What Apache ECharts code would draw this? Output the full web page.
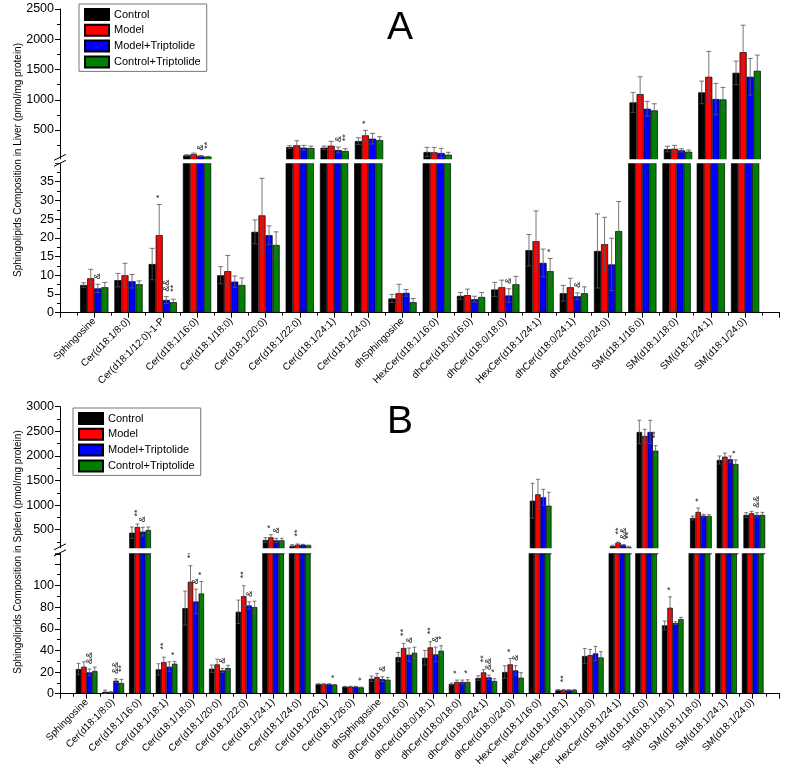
<!DOCTYPE html>
<html><head><meta charset="utf-8">
<script src="https://cdn.jsdelivr.net/npm/echarts@6/dist/echarts.min.js"></script>
<style>html,body{margin:0;padding:0;background:#fff}#c{width:785px;height:775px}</style>
</head><body><div id="c"></div>
<script>
const seriesNames = ['Control', 'Model', 'Model+Triptolide', 'Control+Triptolide'];
const colors = ['#000000', '#ff0000', '#0000ff', '#008000'];

// ---------- Panel A : Liver ----------
const catsA = ['Sphingosine','Cer(d18:1/8:0)','Cer(d18:1/12:0)-1-P','Cer(d18:1/16:0)','Cer(d18:1/18:0)','Cer(d18:1/20:0)','Cer(d18:1/22:0)','Cer(d18:1/24:1)','Cer(d18:1/24:0)','dhSphingosine','HexCer(d18:1/16:0)','dhCer(d18:0/16:0)','dhCer(d18:0/18:0)','HexCer(d18:1/24:1)','dhCer(d18:0/24:1)','dhCer(d18:0/24:0)','SM(d18:1/16:0)','SM(d18:1/18:0)','SM(d18:1/24:1)','SM(d18:1/24:0)'];
const controlA   = [7.4, 8.7, 13.0, 82, 10.0, 21.6, 219, 208, 318, 3.8, 137, 4.5, 6.2, 16.7, 5.2, 16.5, 957, 186, 1122, 1446];
const controlErrA= [0.6, 1.8, 4.2, 10, 2.3, 3.2, 22, 28, 55, 1.1, 77, 0.9, 1.9, 4.2, 2.1, 9.9, 165, 45, 187, 193];
const modelA     = [9.2, 10.0, 20.7, 99, 11.1, 26.0, 247, 241, 412, 5.2, 132, 4.7, 6.8, 19.1, 6.8, 18.3, 1094, 191, 1380, 1787];
const modelErrA  = [2.4, 3.2, 8.2, 20, 4.2, 9.9, 76, 72, 83, 2.4, 82, 1.6, 1.9, 8.1, 2.4, 7.2, 286, 56, 419, 446];
const modelTpA   = [6.5, 8.4, 3.4, 71, 8.3, 20.7, 208, 170, 357, 5.3, 120, 3.6, 4.6, 13.3, 4.4, 12.9, 852, 165, 1012, 1380];
const modelTpErrA= [1.1, 1.8, 0.9, 8, 1.5, 2.5, 39, 49, 88, 0.9, 78, 0.8, 1.8, 3.7, 0.9, 7.0, 122, 26, 259, 303];
const ctrlTpA    = [6.8, 7.6, 2.8, 60, 7.4, 18.1, 203, 153, 335, 2.8, 92, 4.2, 7.6, 11.1, 5.2, 21.8, 825, 142, 1006, 1479];
const ctrlTpErrA = [1.3, 0.9, 0.8, 5, 1.9, 3.5, 33, 39, 55, 1.0, 40, 1.2, 2.1, 3.4, 1.7, 7.9, 109, 28, 199, 259];
const breakA = 40;            // axis break value (lower segment max)
const upperMaxA = 2500;
const lowerTicksA = 5;
// significance marks: [category index, series index, text]
const marksA = [[0,2,'&'],[2,1,'*'],[2,2,'&&'],[2,3,'**'],[3,2,'&'],[3,3,'**'],[7,2,'&'],[7,3,'**'],[8,1,'*'],[12,2,'&'],[13,3,'*'],[14,2,'&']];

// ---------- Panel B : Spleen ----------
const catsB = ['Sphingosine','Cer(d18:1/8:0)','Cer(d18:1/16:0)','Cer(d18:1/18:1)','Cer(d18:1/18:0)','Cer(d18:1/20:0)','Cer(d18:1/22:0)','Cer(d18:1/24:1)','Cer(d18:1/24:0)','Cer(d18:1/26:1)','Cer(d18:1/26:0)','dhSphingosine','dhCer(d18:0/16:0)','dhCer(d18:0/18:1)','dhCer(d18:0/18:0)','dhCer(d18:0/24:1)','dhCer(d18:0/24:0)','HexCer(d18:1/16:0)','HexCer(d18:1/18:1)','HexCer(d18:1/18:0)','HexCer(d18:1/24:1)','SM(d18:1/16:0)','SM(d18:1/18:1)','SM(d18:1/18:0)','SM(d18:1/24:1)','SM(d18:1/24:0)'];
const controlB   = [22.8, 1.8, 439, 22.5, 79.1, 23.1, 75.7, 291, 175, 8.9, 6.5, 13.8, 33.8, 33.2, 8.9, 14.5, 20.0, 1089, 3.4, 34.8, 169, 2486, 63.1, 738, 1917, 799];
const controlErrB= [5.2, 1.6, 116, 5.2, 15.7, 3.4, 10.8, 47, 21, 0.3, 0.3, 2.5, 4.4, 6.8, 0.9, 2.1, 5.8, 354, 0.3, 7.0, 15, 238, 4.0, 40, 81, 47];
const modelB     = [24.9, 1.5, 555, 29.2, 103.4, 27.1, 90.2, 345, 196, 8.9, 6.5, 15.4, 42.2, 42.8, 10.8, 19.7, 27.1, 1219, 3.4, 35.7, 236, 2405, 79.4, 860, 1984, 833];
const modelErrB  = [4.6, 0.5, 61, 4.6, 14.8, 4.9, 9.5, 54, 14, 0.3, 0.3, 3.4, 4.3, 5.2, 1.8, 2.5, 5.5, 305, 0.3, 5.2, 13, 136, 10.1, 81, 75, 41];
const modelTpB   = [19.7, 12.0, 460, 24.9, 85.2, 21.5, 81.5, 284, 196, 8.9, 6.5, 13.5, 36.0, 36.3, 10.8, 15.1, 21.5, 1158, 3.4, 37.2, 189, 2486, 65.2, 785, 1931, 799];
const modelTpErrB= [3.1, 1.8, 88, 4.6, 11.4, 1.9, 3.4, 41, 7, 0.3, 0.3, 2.2, 6.2, 6.7, 1.8, 2.1, 4.3, 163, 0.3, 6.5, 10, 238, 1.3, 28, 67, 47];
const ctrlTpB    = [20.9, 9.8, 494, 27.7, 92.6, 23.7, 80.0, 284, 182, 8.3, 5.8, 12.9, 37.8, 39.7, 10.8, 11.7, 14.8, 988, 3.4, 33.5, 142, 2106, 68.9, 778, 1835, 799];
const ctrlTpErrB = [3.7, 3.4, 61, 2.1, 11.1, 2.5, 5.5, 41, 7, 0.3, 0.3, 2.2, 5.2, 4.6, 2.1, 2.1, 4.6, 272, 0.3, 5.3, 20, 102, 1.6, 27, 82, 54];
const breakB = 130;
const upperMaxB = 3000;
const lowerTicksB = 20;
const marksB = [[0,2,'&&'],[1,2,'&&'],[1,3,'**'],[2,1,'**'],[2,2,'&'],[3,1,'**'],[3,3,'*'],[4,1,'**'],[4,2,'&'],[4,3,'*'],[5,2,'&'],[6,1,'**'],[6,2,'&'],[7,1,'*'],[7,2,'&'],[8,1,'**'],[9,3,'*'],[10,3,'*'],[11,2,'&'],[12,1,'**'],[12,2,'&'],[13,1,'**'],[13,2,'&'],[13,3,'*'],[14,1,'*'],[14,3,'*'],[15,1,'**'],[15,2,'&&'],[15,3,'*'],[16,1,'*'],[16,2,'&'],[18,1,'**'],[20,1,'**'],[20,2,'&&'],[20,3,'**'],[21,3,'**'],[22,1,'*'],[23,1,'*'],[24,3,'*'],[25,2,'&&']];

const FONT = 'Liberation Sans, Arial, Helvetica, sans-serif';

const grids = [], xAxes = [], yAxes = [], series = [];

function buildPanel(p) {
  const means = p.means, errs = p.errs, n = p.cats.length;
  const big = p.cats.map((c, i) => means[0][i] > p.brk);
  const gU = grids.length;
  grids.push({left: 60, right: 4, top: p.upTop, height: p.upH});
  grids.push({left: 60, right: 4, top: p.loTop, height: p.loH});
  const gL = gU + 1;
  const padCats = [' '].concat(p.cats, ['  ']);
  const xU = xAxes.length;
  xAxes.push({type: 'category', gridIndex: gU, data: padCats, boundaryGap: false, show: false});
  const xL = xAxes.length;
  xAxes.push({type: 'category', gridIndex: gL, data: padCats, boundaryGap: false, position: 'bottom',
    axisLine: {lineStyle: {color: '#000', width: 1}},
    axisTick: {show: true, length: 5, inside: false, lineStyle: {color: '#000'}, alignWithLabel: true, interval: 0},
    axisLabel: {interval: 0, rotate: 45, fontSize: 10, color: '#000', margin: 7, fontFamily: FONT}});
  // half-step minor ticks
  const half = [];
  for (let i = 0; i <= 2 * (n + 1); i++) half.push('m' + i);
  xAxes.push({type: 'category', gridIndex: gL, data: half, boundaryGap: false, position: 'bottom',
    axisLine: {show: false}, axisLabel: {show: false},
    axisTick: {show: true, length: 3, interval: 0, lineStyle: {color: '#000'}}});
  const yU = yAxes.length;
  yAxes.push({type: 'value', gridIndex: gU, min: 0, max: p.upMax, interval: 500,
    axisLine: {show: true, lineStyle: {color: '#000'}},
    axisTick: {show: true, length: 5, lineStyle: {color: '#000'}},
    minorTick: {show: true, splitNumber: 2, length: 3, lineStyle: {color: '#000'}},
    splitLine: {show: false},
    axisLabel: {fontSize: 12.5, color: '#000', margin: 6, fontFamily: FONT, formatter: v => v === 0 ? '' : String(v)}});
  const yL = yAxes.length;
  yAxes.push({type: 'value', gridIndex: gL, min: 0, max: p.brk, interval: p.loInt,
    axisLine: {show: true, lineStyle: {color: '#000'}},
    axisTick: {show: true, length: 5, lineStyle: {color: '#000'}},
    minorTick: {show: true, splitNumber: 2, length: 3, lineStyle: {color: '#000'}},
    splitLine: {show: false},
    axisLabel: {fontSize: 12.5, color: '#000', margin: 6, fontFamily: FONT,
      formatter: v => (v > p.brk - p.loInt + 0.001 || v % p.loInt !== 0) ? '' : String(v)}});

  for (let s = 0; s < 4; s++) {
    const lower = ['-'].concat(means[s], ['-']);
    const upper = ['-'].concat(means[s].map((v, i) => big[i] ? v : '-'), ['-']);
    const common = {type: 'bar', name: seriesNames[s], barGap: '0%', barCategoryGap: p.gap,
      itemStyle: {color: colors[s], borderColor: '#000', borderWidth: 0.7}, emphasis: {disabled: true}, clip: true};
    series.push(Object.assign({}, common, {xAxisIndex: xL, yAxisIndex: yL, data: lower}));
    series.push(Object.assign({}, common, {xAxisIndex: xU, yAxisIndex: yU, data: upper}));
  }
  // error bars
  const errLo = [], errUp = [];
  for (let s = 0; s < 4; s++) for (let i = 0; i < n; i++) {
    const item = [i + 1, s, means[s][i], errs[s][i]];
    (big[i] ? errUp : errLo).push(item);
  }
  const gapFrac = parseFloat(p.gap) / 100;
  function barX(api, cat, s) {
    const c = api.coord([cat, 0]);
    const band = api.size([1, 0])[0];
    const gw = band * (1 - gapFrac);
    const bw = gw / 4;
    return {x: c[0] - gw / 2 + bw * (s + 0.5), bw: bw};
  }
  function errRender(params, api) {
    const cat = api.value(0), s = api.value(1), m = api.value(2), e = api.value(3);
    const b = barX(api, cat, s);
    const yt = api.coord([cat, m + e])[1];
    const yb = api.coord([cat, Math.max(m - e, 0)])[1];
    const cw = b.bw * 0.35;
    const st = {stroke: '#555', lineWidth: 0.8};
    return {type: 'group', children: [
      {type: 'line', shape: {x1: b.x, y1: yt, x2: b.x, y2: yb}, style: st},
      {type: 'line', shape: {x1: b.x - cw, y1: yt, x2: b.x + cw, y2: yt}, style: st},
      {type: 'line', shape: {x1: b.x - cw, y1: yb, x2: b.x + cw, y2: yb}, style: st}
    ]};
  }
  series.push({type: 'custom', xAxisIndex: xL, yAxisIndex: yL, data: errLo, renderItem: errRender, z: 5, silent: true});
  series.push({type: 'custom', xAxisIndex: xU, yAxisIndex: yU, data: errUp, renderItem: errRender, z: 5, silent: true});
  // significance marks
  const mkLo = [], mkUp = [];
  p.marks.forEach(m => {
    const i = m[0], s = m[1];
    const item = [i + 1, s, means[s][i] + errs[s][i], m[2]];
    (big[i] ? mkUp : mkLo).push(item);
  });
  function makeMkRender(list) {
    return function (params, api) {
      const cat = api.value(0), s = api.value(1), top = api.value(2);
      const txt = list[params.dataIndex][3];
      const b = barX(api, cat, s);
      const y = api.coord([cat, top])[1];
      return {type: 'text', x: b.x, y: y - 5 - txt.length * 3, rotation: Math.PI / 2,
        style: {text: txt, fontSize: 9, fill: '#222', align: 'center', verticalAlign: 'middle', fontFamily: FONT}};
    };
  }
  series.push({type: 'custom', xAxisIndex: xL, yAxisIndex: yL, data: mkLo.map(d => d.slice(0, 3)), renderItem: makeMkRender(mkLo), z: 6, silent: true});
  series.push({type: 'custom', xAxisIndex: xU, yAxisIndex: yU, data: mkUp.map(d => d.slice(0, 3)), renderItem: makeMkRender(mkUp), z: 6, silent: true});
}

buildPanel({cats: catsA, means: [controlA, modelA, modelTpA, ctrlTpA], errs: [controlErrA, modelErrA, modelTpErrA, ctrlTpErrA],
  brk: breakA, upMax: upperMaxA, loInt: lowerTicksA, marks: marksA, gap: '17.5%',
  upTop: 9, upH: 151.3, loTop: 163, loH: 149.7});
buildPanel({cats: catsB, means: [controlB, modelB, modelTpB, ctrlTpB], errs: [controlErrB, modelErrB, modelTpErrB, ctrlTpErrB],
  brk: breakB, upMax: upperMaxB, loInt: lowerTicksB, marks: marksB, gap: '18.7%',
  upTop: 406.7, upH: 147.6, loTop: 553, loH: 140.7});

function breakMarks(yTop, yBot) {
  const yc = (yTop + yBot) / 2;
  return [
    {type: 'rect', z: 100, shape: {x: 50, y: yTop, width: 735, height: yBot - yTop}, style: {fill: '#fff'}},
    {type: 'line', z: 101, shape: {x1: 54, y1: yc - 1, x2: 66, y2: yc - 7}, style: {stroke: '#000', lineWidth: 1}},
    {type: 'line', z: 101, shape: {x1: 54, y1: yc + 5, x2: 66, y2: yc - 1}, style: {stroke: '#000', lineWidth: 1}}
  ];
}

const legendCommon = {orient: 'vertical', icon: 'rect', itemWidth: 24, itemHeight: 11, itemGap: 2.8,
  padding: [4, 6, 3, 5], borderColor: '#777', borderWidth: 1, backgroundColor: '#fff',
  textStyle: {fontSize: 11, color: '#000', fontFamily: FONT}, data: seriesNames, selectedMode: false};

const option = {
  animation: false,
  backgroundColor: '#fff',
  textStyle: {fontFamily: FONT},
  grid: grids, xAxis: xAxes, yAxis: yAxes, series: series,
  legend: [Object.assign({left: 79, top: 4}, legendCommon), Object.assign({left: 73, top: 408}, legendCommon)],
  graphic: [].concat(breakMarks(159.3, 163.3), breakMarks(548.3, 553.3), [
    {type: 'text', x: 400, y: 28, z: 50, style: {text: 'A', fontSize: 39, fill: '#000', align: 'center', verticalAlign: 'middle', fontFamily: FONT}},
    {type: 'text', x: 400, y: 422, z: 50, style: {text: 'B', fontSize: 39, fill: '#000', align: 'center', verticalAlign: 'middle', fontFamily: FONT}},
    {type: 'text', x: 18, y: 160, rotation: Math.PI / 2, z: 50, style: {text: 'Sphingolipids Composition in Liver (pmol/mg protein)', fontSize: 10, fill: '#000', align: 'center', verticalAlign: 'middle', fontFamily: FONT}},
    {type: 'text', x: 18, y: 552, rotation: Math.PI / 2, z: 50, style: {text: 'Sphingolipids Composition in Spleen (pmol/mg protein)', fontSize: 10, fill: '#000', align: 'center', verticalAlign: 'middle', fontFamily: FONT}}
  ])
};
const chart = echarts.init(document.getElementById('c'), null, {renderer: 'canvas'});
chart.setOption(option);
</script></body></html>
